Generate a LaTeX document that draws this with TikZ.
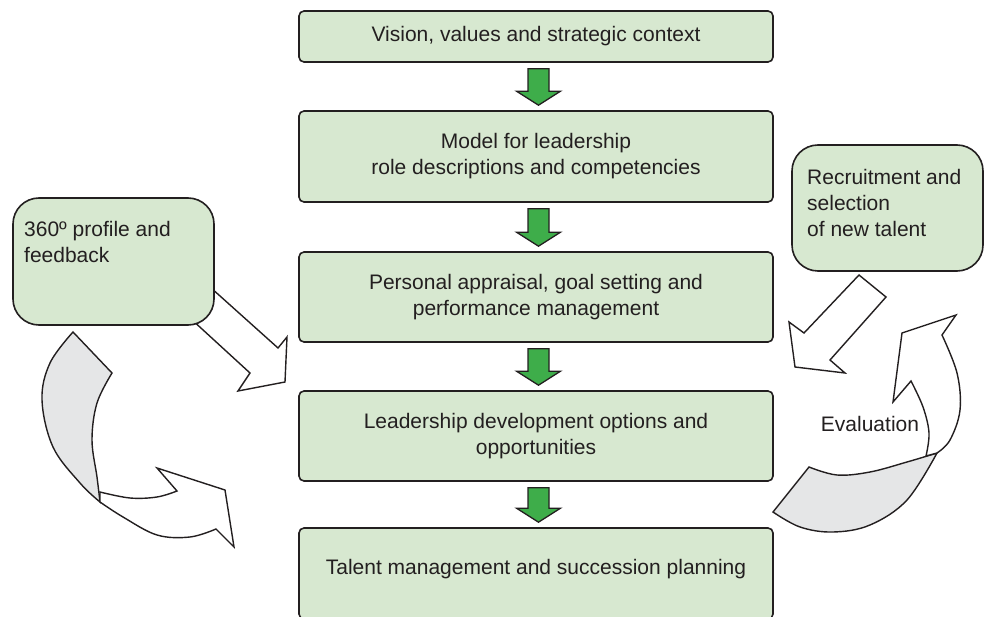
\documentclass[tikz,border=0pt]{standalone}
\usepackage{fontspec}
\setmainfont{Liberation Sans}
\usetikzlibrary{calc}
\definecolor{boxfill}{RGB}{215,232,208}
\definecolor{inkline}{RGB}{35,31,32}
\definecolor{arrowgreen}{RGB}{62,173,74}
\definecolor{bandgray}{RGB}{229,230,231}

% green block arrow between two stacked stages
\newcommand{\flowdown}[2]{%
  \draw[flowarrow] ($(#1.south)+(-8,6)$) -- ($(#2.north)+(-8,-19)$)
    -- ($(#2.north)+(-19.5,-19)$) -- ($(#2.north)+(2.5,-5)$)
    -- ($(#2.north)+(24.5,-19)$) -- ($(#2.north)+(13,-19)$)
    -- ($(#1.south)+(13,6)$) -- cycle;}

\begin{document}
\begin{tikzpicture}[x=1pt,y=-1pt,
  every node/.style={font=\fontsize{21}{26}\selectfont, text=inkline},
  stage/.style={draw=inkline, fill=boxfill, line width=1.6pt, rounded corners=5pt,
    minimum width=474pt, align=center, inner sep=0pt},
  sidebox/.style={draw=inkline, fill=boxfill, line width=1.6pt, rounded corners=26pt, inner sep=0pt},
  flowarrow/.style={draw=inkline, fill=arrowgreen, line width=1.3pt, line join=miter},
  blockarrow/.style={draw=inkline, fill=white, line width=1.4pt, line join=miter},
  band/.style={draw=inkline, fill=bandgray, line width=1.4pt, line join=miter}]

\useasboundingbox (0,0) rectangle (985,617);
\clip (0,0) rectangle (985,617);

% central sequence of stages
\node (vision) [stage, minimum height=51pt] at (536,36.5) {Vision, values and strategic context};
\node (model) [stage, minimum height=91pt] at (536,156.5) {Model for leadership\\role descriptions and competencies};
\node (appraisal) [stage, minimum height=90pt] at (536,297) {Personal appraisal, goal setting and\\performance management};
\node (develop) [stage, minimum height=90pt] at (536,436) {Leadership development options and\\opportunities};
\node (talent) [stage, minimum height=91pt, text depth=14pt] at (536,573.5) {Talent management and succession planning};

\flowdown{vision}{model}
\flowdown{model}{appraisal}
\flowdown{appraisal}{develop}
\flowdown{develop}{talent}

% straight white arrows from the side boxes
\draw[blockarrow] (210,287) -- (278,348) -- (287,337) -- (285,382) -- (238,391)
  -- (250,373) -- (190,318) -- cycle;
\draw[blockarrow] (859,275) -- (886,297) -- (830,360) -- (845,373) -- (795,367)
  -- (789,322) -- (804,333) -- cycle;

% left twisted ribbon arrow
\draw[band] plot[smooth,tension=0.6] coordinates {(73,332) (50,363) (42,400) (53,447) (80,483) (100,502)}
  -- plot[smooth,tension=0.6] coordinates {(100,502) (97,477) (92,440) (97,403) (112,373)} -- cycle;
\draw[blockarrow] plot[smooth,tension=0.6] coordinates {(100,502) (123,517) (157,535) (190,537) (216,529)}
  -- (234,547) -- (225,490) -- (157,468) -- (177,491)
  -- plot[smooth,tension=0.6] coordinates {(177,491) (157,497) (130,498) (100,492)} -- cycle;

% right twisted ribbon arrow
\draw[band] plot[smooth,tension=0.6] coordinates {(809,467) (837,475) (870,472) (907,462) (937,453)}
  -- plot[smooth,tension=0.6] coordinates {(937,453) (907,500) (870,525) (833,532) (800,527) (773,512)} -- cycle;
\draw[blockarrow] plot[smooth,tension=0.6] coordinates {(926,456) (929,433) (923,407) (911,381)}
  -- (893,402) -- (902,333) -- (956,315) -- (942,335)
  -- plot[smooth,tension=0.6] coordinates {(942,335) (957,373) (960,410) (950,440) (937,453)} -- cycle;
\node (evallabel) at (870,424) {Evaluation};

% side boxes
\node (feedback) [sidebox, minimum width=201pt, minimum height=127pt] at (113.5,261.5) {};
\node (feedbacktext) [anchor=north west, align=left, inner sep=0pt] at (24,221) {360º profile and\\feedback};
\node (recruit) [sidebox, minimum width=191pt, minimum height=126pt] at (887.5,208) {};
\node (recruittext) [anchor=north west, align=left, inner sep=0pt] at (807,169) {Recruitment and\\selection\\of new talent};

\end{tikzpicture}
\end{document}
